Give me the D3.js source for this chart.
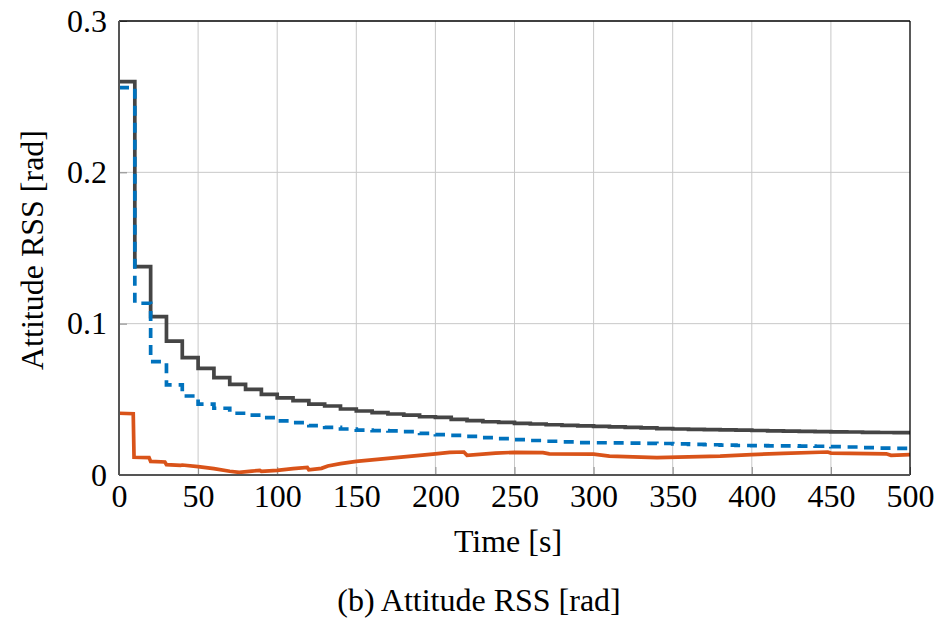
<!DOCTYPE html>
<html>
<head>
<meta charset="utf-8">
<script src="https://cdn.jsdelivr.net/npm/d3@7"></script>
<style>
  body { margin: 0; background: #fff; }
  svg text { font-family: "Liberation Serif", "Times New Roman", serif; fill: #000; }
</style>
</head>
<body>
<div id="chart"></div>
<script>
// step series, one value per 10 s interval starting at t = 0
const stepTimes = d3.range(0, 500, 10)
const grayVals = [0.260, 0.1377, 0.1046, 0.0885, 0.0775, 0.0705, 0.0643, 0.0599, 0.0566, 0.0533,
    0.0510, 0.0491, 0.0469, 0.0456, 0.0436, 0.0423, 0.0412, 0.0403, 0.0396, 0.0385,
    0.0381, 0.0368, 0.0359, 0.0352, 0.0348, 0.0341, 0.0337, 0.0332, 0.0328, 0.0324,
    0.0321, 0.0318, 0.0315, 0.0311, 0.0307, 0.0304, 0.0302, 0.0300, 0.0298, 0.0296,
    0.0294, 0.0292, 0.0290, 0.0288, 0.0286, 0.0285, 0.0284, 0.0282, 0.0281, 0.0280]
const blueVals = [0.256, 0.1135, 0.0749, 0.0595, 0.0522, 0.0469, 0.0441, 0.0408, 0.0396, 0.0379,
    0.0357, 0.0346, 0.0326, 0.0315, 0.0304, 0.0297, 0.0293, 0.0292, 0.0286, 0.0275,
    0.0267, 0.0262, 0.0255, 0.0247, 0.0240, 0.0234, 0.0228, 0.0223, 0.0219, 0.0214,
    0.0213, 0.0212, 0.0211, 0.0209, 0.0208, 0.0206, 0.0203, 0.0200, 0.0198, 0.0195,
    0.0194, 0.0193, 0.0192, 0.0191, 0.0190, 0.0187, 0.0185, 0.0181, 0.0178, 0.0176]

// orange series read at irregular times
const orangeTimes = [0, 9, 9.5, 19, 20, 29, 30, 39, 40, 50, 60, 70, 76, 84, 89, 90, 100, 110, 119, 120,
    128, 132, 140, 150, 165, 180, 200, 209, 218, 220, 238, 250, 268, 272, 300, 310, 340, 360, 380, 400,
    420, 448, 450, 485, 488, 500]
const orangeVals = [0.0408, 0.0405, 0.0117, 0.0115, 0.0090, 0.0086, 0.0068, 0.0064, 0.0066, 0.0055,
    0.0042, 0.0025, 0.0018, 0.0026, 0.0030, 0.0024, 0.0030, 0.0042, 0.0050, 0.0034,
    0.0044, 0.0060, 0.0075, 0.0090, 0.0105, 0.0120, 0.0140, 0.0150, 0.0152, 0.0130,
    0.0145, 0.0150, 0.0148, 0.0140, 0.0138, 0.0125, 0.0115, 0.0120, 0.0125, 0.0135,
    0.0143, 0.0152, 0.0145, 0.0140, 0.0130, 0.0135]

const xTicks = [0, 50, 100, 150, 200, 250, 300, 350, 400, 450, 500]
const yTicks = [0, 0.1, 0.2, 0.3]

const width = 937, height = 622
const margin = { top: 21, right: 27, bottom: 147, left: 119 }
const w = width - margin.left - margin.right
const h = height - margin.top - margin.bottom

const svg = d3.select("#chart").append("svg")
    .attr("width", width)
    .attr("height", height)

const g = svg.append("g")
    .attr("transform", "translate(" + margin.left + "," + margin.top + ")")

const x = d3.scaleLinear().domain([0, 500]).range([0, w])
const y = d3.scaleLinear().domain([0, 0.3]).range([h, 0])

// grid
g.append("g").selectAll("line")
    .data(xTicks.slice(1, -1))
    .enter().append("line")
    .attr("x1", d => x(d)).attr("x2", d => x(d))
    .attr("y1", 0).attr("y2", h)
    .attr("stroke", "#c8c8c8").attr("stroke-width", 1)

g.append("g").selectAll("line")
    .data(yTicks.slice(1, -1))
    .enter().append("line")
    .attr("x1", 0).attr("x2", w)
    .attr("y1", d => y(d)).attr("y2", d => y(d))
    .attr("stroke", "#c8c8c8").attr("stroke-width", 1)

// axes with inward ticks
const xAxis = g.append("g")
    .attr("transform", "translate(0," + h + ")")
    .call(d3.axisBottom(x).tickValues(xTicks).tickSize(-8).tickPadding(14).tickFormat(d3.format("d")))
const yAxis = g.append("g")
    .call(d3.axisLeft(y).tickValues(yTicks).tickSize(-8).tickPadding(12).tickFormat(d => d === 0 ? "0" : d3.format(".1f")(d)))

;[xAxis, yAxis].forEach(a => {
    a.select(".domain").remove()
    a.selectAll(".tick line").attr("stroke", "#8a8a8a").attr("stroke-width", 1)
    a.selectAll("text").style("font-size", "32px").attr("fill", "#000")
})
xAxis.selectAll("text").attr("dy", "0.71em").attr("y", 9)
yAxis.selectAll("text").attr("x", -12)

// series
const stepLine = d3.line()
    .x(d => x(d[0]))
    .y(d => y(d[1]))
    .curve(d3.curveStepAfter)

function stepData(vals) {
    const pts = stepTimes.map((t, i) => [t, vals[i]])
    pts.push([500, vals[vals.length - 1]])
    return pts
}

g.append("path")
    .datum(stepData(grayVals))
    .attr("d", stepLine)
    .attr("fill", "none")
    .attr("stroke", "#454545")
    .attr("stroke-width", 3.7)

g.append("path")
    .datum(stepData(blueVals))
    .attr("d", stepLine)
    .attr("fill", "none")
    .attr("stroke", "#0072bd")
    .attr("stroke-width", 3.7)
    .attr("stroke-dasharray", "10,7")

const orangeLine = d3.line()
    .x(d => x(d[0]))
    .y(d => y(d[1]))

g.append("path")
    .datum(orangeTimes.map((t, i) => [t, orangeVals[i]]))
    .attr("d", orangeLine)
    .attr("fill", "none")
    .attr("stroke", "#d95319")
    .attr("stroke-width", 3.7)

// frame
g.append("line").attr("x1", 0).attr("x2", w).attr("y1", 0).attr("y2", 0)
    .attr("stroke", "#000").attr("stroke-width", 1.3)
g.append("line").attr("x1", w).attr("x2", w).attr("y1", 0).attr("y2", h)
    .attr("stroke", "#000").attr("stroke-width", 1.3)
g.append("line").attr("x1", 0).attr("x2", 0).attr("y1", 0).attr("y2", h)
    .attr("stroke", "#555").attr("stroke-width", 2)
g.append("line").attr("x1", 0).attr("x2", w).attr("y1", h).attr("y2", h)
    .attr("stroke", "#555").attr("stroke-width", 2)

// labels
svg.append("text")
    .attr("x", 508).attr("y", 552)
    .attr("text-anchor", "middle")
    .style("font-size", "32px")
    .text("Time [s]")

svg.append("text")
    .attr("transform", "translate(43," + (margin.top + h / 2 + 2) + ") rotate(-90)")
    .attr("text-anchor", "middle")
    .style("font-size", "32px")
    .text("Attitude RSS [rad]")

svg.append("text")
    .attr("x", 479).attr("y", 611)
    .attr("text-anchor", "middle")
    .style("font-size", "32px")
    .text("(b) Attitude RSS [rad]")
</script>
</body>
</html>
